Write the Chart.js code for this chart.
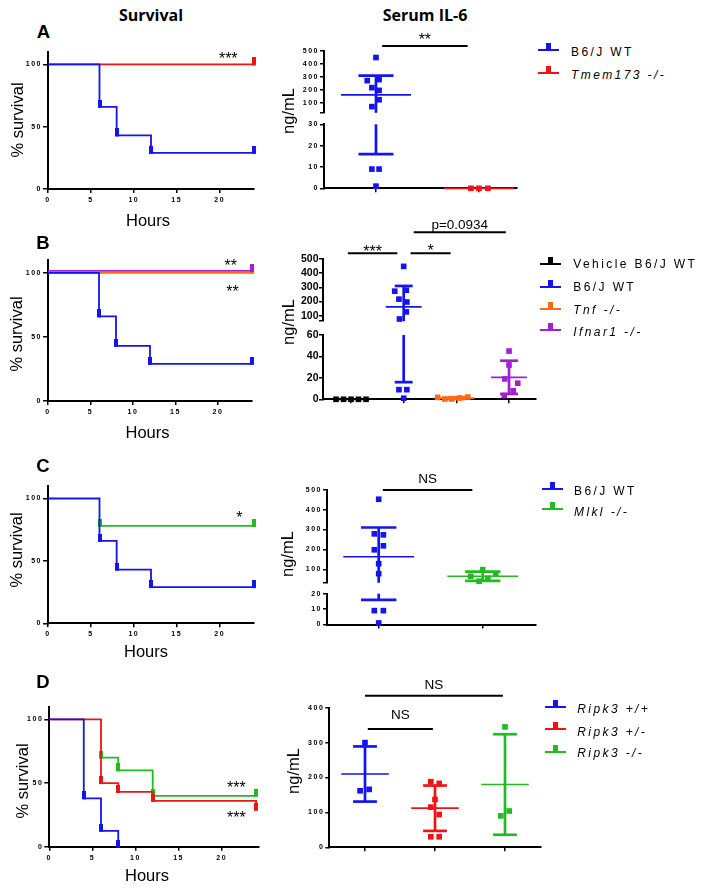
<!DOCTYPE html>
<html><head><meta charset="utf-8">
<script src="https://cdn.jsdelivr.net/npm/chart.js@4.4.1/dist/chart.umd.min.js"></script>
<style>
html,body{margin:0;padding:0;background:#fff;}
#wrap{position:relative;width:704px;height:889px;overflow:hidden;background:#fff;font-family:"Liberation Sans",Arial,sans-serif;color:#000;}
canvas{position:absolute;}
.t{position:absolute;white-space:nowrap;transform:translate(-50%,-50%);line-height:1;}
.title{font-family:"Open Sans",sans-serif;font-weight:bold;font-size:16px;}
.letter{font-weight:bold;font-size:18.5px;}
.ax{font-size:16.5px;}
.rot{transform:translate(-50%,-50%) rotate(-90deg);}
.leg{position:absolute;font-size:12px;letter-spacing:2.4px;white-space:nowrap;line-height:1;transform:translateY(-50%);}
.sym{position:absolute;width:21px;height:9px;}
.sym .ln{position:absolute;left:0;right:0;bottom:0;height:2px;}
.sym .bx{position:absolute;left:8px;width:5px;height:7px;bottom:1px;}
</style></head>
<body><div id="wrap"></div>
<script>
// ---------------- DATA ----------------
const COLORS = {blue:'#1414ee', red:'#ee1414', green:'#22bb22', orange:'#ff6a14', purple:'#a21fd6', black:'#000000'};

// Survival curves (hours, % survival)
const survHoursWT = [0, 6, 8, 12, 24];
const survPctWT = [100, 66, 43, 29, 29];
const survHoursFlat = [0, 24];
const survPctTmem173 = [100, 100];
const survPctTnf = [100, 100];
const survPctIfnar1 = [101.5, 101.5];
const survHoursMlkl = [6, 24];
const survPctMlkl = [78, 78];
const survHoursRipkWT = [0, 4, 6, 8];
const survPctRipkWT = [100, 38, 12.5, 0];
const survHoursRipkHet = [0, 6, 8, 12, 24];
const survPctRipkHet = [100, 50, 43, 36, 29];
const survHoursRipkKO = [6, 8, 12, 24];
const survPctRipkKO = [70, 60, 40, 40];

// Serum IL-6 (ng/mL) individual animals + horizontal jitter (category units)
const il6A_WT = [450, 272, 280, 218, 197, 125, 72, 9, 9, 1];
const jitA_WT = [0, -0.085, 0.03, -0.04, 0.03, 0.03, -0.04, -0.04, 0.03, 0];
const il6A_Tmem173 = [0, 0, 0];
const jitA_Tmem173 = [-0.078, 0, 0.087];
const meanA = [163, 0];
const sdA = [147, 0];

const il6B_Vehicle = [0, 0, 0, 0, 0];
const jitB_Vehicle = [-0.285, -0.142, 0, 0.142, 0.285];
const il6B_WT = [448, 273, 280, 217, 197, 127, 77, 9, 9, 1];
const jitB_WT = [0, -0.17, 0.05, -0.09, 0.06, 0.05, -0.08, -0.09, 0.06, 0];
const il6B_Tnf = [1.8, 0.3, 0.3, 1.2, 2.1];
const jitB_Tnf = [-0.355, -0.22, -0.09, 0.063, 0.215];
const il6B_Ifnar1 = [45, 32, 19, 15, 8, 3.5];
const jitB_Ifnar1 = [0, 0, -0.08, 0.165, 0.08, -0.09];
const meanB = [0, 163, 1.1, 20.5];
const sdB = [0, 147, 0.8, 15.5];

const il6C_WT = [452, 278, 273, 218, 198, 128, 78, 9, 9, 1];
const jitC_WT = [0, -0.042, 0.045, 0.045, -0.042, 0, 0, -0.042, 0.045, 0];
const il6C_Mlkl = [65, 40, 98, 55, 77];
const jitC_Mlkl = [-0.115, -0.035, 0, 0.05, 0.125];
const meanC = [163, 65];
const sdC = [147, 23];

const il6D_WT = [300, 162, 166];
const jitD_WT = [0, -0.07, 0.06];
const il6D_Het = [188, 183, 137, 115, 94, 30, 30];
const jitD_Het = [-0.06, 0.06, 0, -0.06, 0.06, -0.06, 0.06];
const il6D_KO = [345, 90, 104];
const jitD_KO = [0, -0.06, 0.06];
const meanD = [210, 112, 180];
const sdD = [79, 65, 144];

// Tick labels
const survXTicks = [0, 5, 10, 15, 20];
const survYTicks = [0, 50, 100];
const il6UpperTicks = [100, 200, 300, 400, 500];
const il6LowerTicksA = [0, 10, 20, 30];
const il6LowerTicksB = [0, 20, 40, 60];
const il6LowerTicksC = [0, 10, 20];
const il6TicksD = [0, 100, 200, 300, 400];

// Legends
const legendA = ['B6/J WT', 'Tmem173 -/-'];
const legendB = ['Vehicle B6/J WT', 'B6/J WT', 'Tnf -/-', 'Ifnar1 -/-'];
const legendC = ['B6/J WT', 'Mlkl -/-'];
const legendD = ['Ripk3 +/+', 'Ripk3 +/-', 'Ripk3 -/-'];

// ---------------- HELPERS ----------------
const wrap = document.getElementById('wrap');
const TF = "'Liberation Sans', Arial, sans-serif";

function mk(b) {
  const cl = Math.floor(b.L - b.yW), ct = Math.floor(b.T - b.padT);
  const cr = Math.ceil(b.R + b.padR), cb = Math.ceil(b.B + b.xH + b.padB);
  const c = document.createElement('canvas');
  c.width = cr - cl; c.height = cb - ct;
  Object.assign(c.style, {left: cl + 'px', top: ct + 'px', width: (cr - cl) + 'px', height: (cb - ct) + 'px'});
  wrap.appendChild(c);
  return {c, yW: b.L - cl, padT: b.T - ct, padR: cr - b.R, padB: cb - b.B - b.xH, xH: b.xH};
}

function markerImg(color) {
  const c = document.createElement('canvas'); c.width = 4; c.height = 14;
  const g = c.getContext('2d'); g.fillStyle = color; g.fillRect(0, 0, 4, 8);
  return c;
}

const lsPlugin = {
  id: 'ls',
  beforeDraw(chart, a, o) { chart.ctx.letterSpacing = (o && o.v) || '0px'; },
  afterDraw(chart) { chart.ctx.letterSpacing = '0px'; }
};

function line(ctx, x1, y1, x2, y2) { ctx.beginPath(); ctx.moveTo(x1, y1); ctx.lineTo(x2, y2); ctx.stroke(); }

const errPlugin = {
  id: 'err',
  afterDatasetsDraw(chart, a, o) {
    if (!o || !o.groups) return;
    const ctx = chart.ctx, xs = chart.scales.x, ys = chart.scales.y;
    const lo = ys.min, hi = ys.max;
    ctx.save(); ctx.lineCap = 'butt';
    o.groups.forEach(g => {
      ctx.strokeStyle = g.color;
      const xc = xs.getPixelForValue(g.x);
      const mh = xs.getPixelForValue(g.x + 0.34) - xc;
      const ch = xs.getPixelForValue(g.x + 0.17) - xc;
      const top = g.mean + g.sd, bot = g.mean - g.sd;
      if (g.sd > 0) {
        const a1 = Math.min(top, hi), a2 = Math.max(bot, lo);
        ctx.lineWidth = 2.7;
        if (a1 > a2) line(ctx, xc, ys.getPixelForValue(a1), xc, ys.getPixelForValue(a2));
        [top, bot].forEach(v => { if (v >= lo && v <= hi) { const yy = ys.getPixelForValue(v); line(ctx, xc - ch, yy, xc + ch, yy); } });
      }
      if (g.mean >= lo && g.mean <= hi) {
        ctx.lineWidth = 1.7;
        const ym = ys.getPixelForValue(g.mean);
        line(ctx, xc - mh, ym, xc + mh, ym);
      }
    });
    ctx.restore();
  }
};

function drawLabel(ctx, s, x, cy, size) {
  ctx.font = size + 'px ' + TF;
  ctx.fillStyle = '#000'; ctx.textAlign = 'center'; ctx.textBaseline = 'alphabetic';
  const k = /^\*+$/.test(s) ? 0.57 : 0.36;
  ctx.fillText(s, x, cy + k * size);
}

const sigPlugin = {
  id: 'sig',
  afterDatasetsDraw(chart, a, o) {
    if (!o) return;
    const ctx = chart.ctx, xs = chart.scales.x, ys = chart.scales.y;
    ctx.save(); ctx.letterSpacing = '0px';
    (o.bars || []).forEach(b => {
      const x1 = xs.getPixelForValue(b.x1), x2 = xs.getPixelForValue(b.x2), y = ys.getPixelForValue(b.y);
      ctx.strokeStyle = '#000'; ctx.lineWidth = 2; line(ctx, x1, y, x2, y);
      if (b.label) drawLabel(ctx, b.label, (x1 + x2) / 2, y - b.gap, b.size || 16);
    });
    (o.texts || []).forEach(t => drawLabel(ctx, t.t, xs.getPixelForValue(t.x), ys.getPixelForValue(t.y), t.size || 16));
    ctx.restore();
  }
};

function baseOpts(m) {
  return {
    responsive: false, animation: false, events: [], devicePixelRatio: 1,
    layout: {autoPadding: false, padding: {left: 0, top: m.padT, right: m.padR, bottom: m.padB}},
  };
}
const smallFont = {family: TF, size: 7, weight: 'bold'};

function survival(box, curves, stars, xMax) {
  const m = mk(box);
  const datasets = curves.map(c => ({
    data: c.h.map((h, i) => ({x: h, y: c.p[i]})),
    borderColor: c.color, backgroundColor: c.color, borderWidth: 1.8, stepped: true, fill: false,
    pointStyle: markerImg(c.color), pointRadius: c.h.map(h => h === 0 ? 0 : 3), pointHoverRadius: 0, clip: false
  }));
  const o = baseOpts(m);
  o.plugins = {legend: {display: false}, tooltip: {enabled: false}, ls: {v: '1.5px'}, sig: {texts: stars}};
  o.scales = {
    x: {type: 'linear', min: 0, max: xMax,
      afterFit: s => { s.height = m.xH; },
      afterBuildTicks: s => { s.ticks = survXTicks.map(v => ({value: v})); },
      border: {display: true, color: '#000', width: 2},
      grid: {drawOnChartArea: false, color: '#000', lineWidth: 1.5, tickLength: 4},
      ticks: {autoSkip: false, maxRotation: 0, padding: 3, color: '#000', font: smallFont}},
    y: {type: 'linear', min: 0, max: 110,
      afterFit: s => { s.width = m.yW; },
      afterBuildTicks: s => { s.ticks = survYTicks.map(v => ({value: v})); },
      border: {display: true, color: '#000', width: 2},
      grid: {drawOnChartArea: false, color: '#000', lineWidth: 1.5, tickLength: 5},
      ticks: {autoSkip: false, padding: 1, color: '#000', font: smallFont}}
  };
  new Chart(m.c, {type: 'line', data: {datasets}, options: o, plugins: [lsPlugin, errPlugin, sigPlugin]});
}

function il6(box, groups, seg, xr, stats, sig, fontSpec) {
  const m = mk(box);
  const datasets = groups.map(g => ({
    data: g.v.map((v, i) => ({x: g.x + g.j[i], y: v})).filter(p => p.y >= seg.min - 1e-9 && p.y <= seg.max + 1e-9),
    backgroundColor: g.color, borderWidth: 0, pointStyle: 'rect', pointRadius: 4, pointHoverRadius: 0, clip: false
  }));
  const o = baseOpts(m);
  o.plugins = {legend: {display: false}, tooltip: {enabled: false}, ls: {v: fontSpec.ls},
    err: {groups: stats}, sig: sig || {}};
  o.scales = {
    x: {type: 'linear', display: seg.showX, min: xr[0], max: xr[1],
      afterFit: s => { s.height = m.xH; },
      afterBuildTicks: s => { s.ticks = groups.map(g => ({value: g.x})); },
      border: {display: true, color: '#000', width: 2},
      grid: {drawOnChartArea: false, color: '#000', lineWidth: 1.5, tickLength: 4},
      ticks: {autoSkip: false, maxRotation: 0, callback: () => ''}},
    y: {type: 'linear', min: seg.min, max: seg.max,
      afterFit: s => { s.width = m.yW; },
      afterBuildTicks: s => { s.ticks = seg.ticks.map(v => ({value: v})); },
      border: {display: true, color: '#000', width: 2},
      grid: {drawOnChartArea: false, color: '#000', lineWidth: 1.5, tickLength: 4},
      ticks: {autoSkip: false, padding: fontSpec.pad, color: '#000', font: fontSpec.font,
        callback: v => seg.labels.includes(v) ? String(v) : ''}}
  };
  new Chart(m.c, {type: 'scatter', data: {datasets}, options: o, plugins: [lsPlugin, errPlugin, sigPlugin]});
}

const FS_SMALL = {font: smallFont, ls: '1.5px', pad: 1};
const FS_B = {font: {family: TF, size: 10.5, weight: 'bold'}, ls: '0px', pad: 0.5};

// ---------------- SURVIVAL PANELS ----------------
survival({L: 48, T: 52, R: 254, B: 189, yW: 48, padT: 8, padR: 22, xH: 22, padB: 2},
  [{h: survHoursWT, p: survPctWT, color: COLORS.blue},
   {h: survHoursFlat, p: survPctTmem173, color: COLORS.red}],
  [{x: 21, y: 107.6, t: '***'}], 24);

survival({L: 48, T: 260, R: 252, B: 401, yW: 48, padT: 8, padR: 22, xH: 22, padB: 2},
  [{h: survHoursFlat, p: survPctIfnar1, color: COLORS.purple},
   {h: survHoursWT, p: survPctWT, color: COLORS.blue},
   {h: survHoursFlat, p: survPctTnf, color: COLORS.orange}],
  [{x: 21.5, y: 108.6, t: '**'}, {x: 21.7, y: 88.5, t: '**'}], 24);

survival({L: 48, T: 486, R: 254, B: 623.3, yW: 48, padT: 8, padR: 22, xH: 22, padB: 2},
  [{h: survHoursWT, p: survPctWT, color: COLORS.blue},
   {h: survHoursMlkl, p: survPctMlkl, color: COLORS.green}],
  [{x: 22.3, y: 88, t: '*'}], 24);

survival({L: 49.3, T: 706.7, R: 258.3, B: 846.7, yW: 48, padT: 8, padR: 18, xH: 22, padB: 2},
  [{h: survHoursRipkWT, p: survPctRipkWT, color: COLORS.blue},
   {h: survHoursRipkHet, p: survPctRipkHet, color: COLORS.red},
   {h: survHoursRipkKO, p: survPctRipkKO, color: COLORS.green}],
  [{x: 21.7, y: 49.5, t: '***'}, {x: 21.7, y: 25.8, t: '***'}], 24.25);

// ---------------- IL-6 PANELS ----------------
// A
const grpA = [{v: il6A_WT, j: jitA_WT, x: 1, color: COLORS.blue}, {v: il6A_Tmem173, j: jitA_Tmem173, x: 2, color: COLORS.red}];
const statA = grpA.map((g, i) => ({x: g.x, mean: meanA[i], sd: sdA[i], color: g.color}));
const xrA = [0.495, 2.37];
il6({L: 324, T: 51, R: 517, B: 114, yW: 40, padT: 24, padR: 8, xH: 0, padB: 4}, grpA,
  {min: 24.5, max: 500, ticks: [24.5].concat(il6UpperTicks), labels: il6UpperTicks, showX: false}, xrA, statA,
  {bars: [{x1: 1.06, x2: 1.89, y: 537.7, label: '**', gap: 10}]}, FS_SMALL);
il6({L: 324, T: 124.3, R: 517, B: 188.3, yW: 40, padT: 7, padR: 8, xH: 8, padB: 2}, grpA,
  {min: 0, max: 30, ticks: il6LowerTicksA, labels: il6LowerTicksA, showX: true}, xrA, statA, null, FS_SMALL);

// B
const grpB = [{v: il6B_Vehicle, j: jitB_Vehicle, x: 1, color: COLORS.black}, {v: il6B_WT, j: jitB_WT, x: 2, color: COLORS.blue},
  {v: il6B_Tnf, j: jitB_Tnf, x: 3, color: COLORS.orange}, {v: il6B_Ifnar1, j: jitB_Ifnar1, x: 4, color: COLORS.purple}];
const statB = grpB.map((g, i) => ({x: g.x, mean: meanB[i], sd: sdB[i], color: g.color}));
const xrB = [0.468, 4.512];
il6({L: 323, T: 259, R: 536, B: 324, yW: 40, padT: 48, padR: 8, xH: 0, padB: 4}, grpB,
  {min: 61.5, max: 500, ticks: [61.5].concat(il6UpperTicks), labels: il6UpperTicks, showX: false}, xrB, statB,
  {bars: [{x1: 0.94, x2: 1.88, y: 540.5, label: '***', gap: 5.5},
          {x1: 2.13, x2: 2.89, y: 540.5, label: '*', gap: 6},
          {x1: 2.19, x2: 3.94, y: 688.9, label: 'p=0.0934', gap: 8.5, size: 13.5}]}, FS_B);
il6({L: 323, T: 335, R: 536, B: 399.3, yW: 40, padT: 8, padR: 8, xH: 8, padB: 2}, grpB,
  {min: 0, max: 60, ticks: il6LowerTicksB, labels: il6LowerTicksB, showX: true}, xrB, statB, null, FS_B);

// C
const grpC = [{v: il6C_WT, j: jitC_WT, x: 1, color: COLORS.blue}, {v: il6C_Mlkl, j: jitC_Mlkl, x: 2, color: COLORS.green}];
const statC = grpC.map((g, i) => ({x: g.x, mean: meanC[i], sd: sdC[i], color: g.color}));
const xrC = [0.503, 2.512];
il6({L: 327, T: 489.7, R: 536, B: 583.3, yW: 40, padT: 23, padR: 8, xH: 0, padB: 4}, grpC,
  {min: 32, max: 500, ticks: [32].concat(il6UpperTicks), labels: il6UpperTicks, showX: false}, xrC, statC,
  {bars: [{x1: 1.04, x2: 1.90, y: 498.5, label: 'NS', gap: 12.2, size: 13.5}]}, FS_SMALL);
il6({L: 327, T: 593.7, R: 536, B: 624.5, yW: 40, padT: 7, padR: 8, xH: 8, padB: 2}, grpC,
  {min: 0, max: 20, ticks: il6LowerTicksC, labels: il6LowerTicksC, showX: true}, xrC, statC, null, FS_SMALL);

// D
const grpD = [{v: il6D_WT, j: jitD_WT, x: 1, color: COLORS.blue}, {v: il6D_Het, j: jitD_Het, x: 2, color: COLORS.red},
  {v: il6D_KO, j: jitD_KO, x: 3, color: COLORS.green}];
const statD = grpD.map((g, i) => ({x: g.x, mean: meanD[i], sd: sdD[i], color: g.color}));
il6({L: 329.3, T: 707.7, R: 540.7, B: 847.3, yW: 40, padT: 35, padR: 8, xH: 8, padB: 2}, grpD,
  {min: 0, max: 400, ticks: il6TicksD, labels: il6TicksD, showX: true}, [0.49, 3.51], statD,
  {bars: [{x1: 1.0, x2: 2.97, y: 434.4, label: 'NS', gap: 11.2, size: 13.5},
          {x1: 1.04, x2: 1.97, y: 339, label: 'NS', gap: 15.3, size: 13.5}]}, FS_SMALL);

// ---------------- TEXT ----------------
function txt(s, x, y, cls) {
  const d = document.createElement('div'); d.className = 't ' + cls; d.textContent = s;
  d.style.left = x + 'px'; d.style.top = y + 'px'; wrap.appendChild(d);
}
txt('Survival', 151, 14.8, 'title');
txt('Serum IL-6', 425, 14.8, 'title');
[['A', 43.5, 32], ['B', 43, 243], ['C', 43, 466], ['D', 43, 681.5]].forEach(a => txt(a[0], a[1], a[2], 'letter'));
[[148, 220], [147.5, 432], [146, 650.5], [147, 875]].forEach(a => txt('Hours', a[0], a[1], 'ax'));
[[16.5, 120], [16, 334], [16, 550], [21.5, 781]].forEach(a => txt('% survival', a[0], a[1], 'ax rot'));
[[288, 111], [288, 322], [286.5, 554], [293, 771]].forEach(a => txt('ng/mL', a[0], a[1], 'ax rot'));

function legend(labels, colors, symX, lineYs, textX, textYs) {
  labels.forEach((lab, i) => {
    const s = document.createElement('div'); s.className = 'sym';
    s.style.left = (symX - 10.5) + 'px'; s.style.top = (lineYs[i] - 8) + 'px';
    s.innerHTML = '<div class="ln" style="background:' + colors[i] + '"></div><div class="bx" style="background:' + colors[i] + '"></div>';
    wrap.appendChild(s);
    const t = document.createElement('div'); t.className = 'leg'; t.textContent = lab;
    if (!/^(B6|Vehicle)/.test(lab)) t.style.fontStyle = 'italic';
    t.style.left = textX + 'px'; t.style.top = textYs[i] + 'px';
    wrap.appendChild(t);
  });
}
legend(legendA, [COLORS.blue, COLORS.red], 548.5, [50, 72.7], 571, [51.7, 74.8]);
legend(legendB, [COLORS.black, COLORS.blue, COLORS.orange, COLORS.purple], 550, [264, 286.7, 308.5, 330.4], 573.3, [263.7, 286.8, 310, 332]);
legend(legendC, [COLORS.blue, COLORS.green], 552, [488.5, 509.3], 574, [490.7, 511.8]);
legend(legendD, [COLORS.blue, COLORS.red, COLORS.green], 555.3, [707, 729.3, 751.5], 577.3, [709, 731.7, 753]);
</script>
</body></html>
